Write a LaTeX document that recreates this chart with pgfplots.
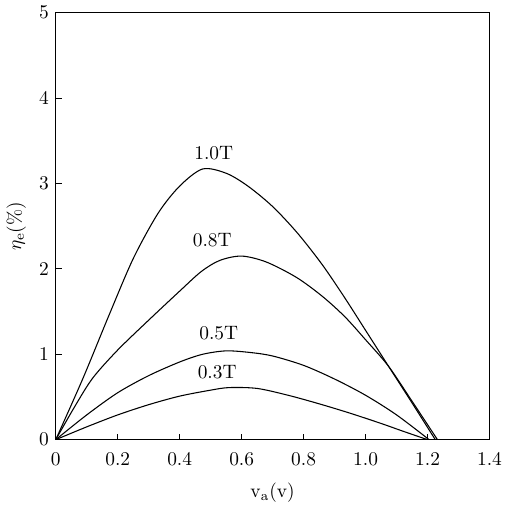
\documentclass[border=0pt]{standalone}
\usepackage{pgfplots}
\pgfplotsset{compat=1.18}

\begin{document}
\begin{tikzpicture}
\begin{axis}[
    scale only axis,
    width=223.5pt,
    height=220pt,
    xmin=0, xmax=1.4,
    ymin=0, ymax=5,
    xtick={0,0.2,0.4,0.6,0.8,1.0,1.2,1.4},
    xticklabels={0,0.2,0.4,0.6,0.8,1.0,1.2,1.4},
    ytick={0,1,2,3,4,5},
    tick align=inside,
    xtick pos=bottom,
    ytick pos=left,
    major tick length=3pt,
    xticklabel style={yshift=-3pt},
    xlabel style={yshift=-2pt},
    axis line style={line width=0.5pt},
    tick style={black, line width=0.5pt},
    xlabel={$\mathrm{v_a}$(v)},
    ylabel={$\eta_{\mathrm{e}}$(\%)},
    cycle list={{black, solid, no markers}},
    every axis plot/.append style={line width=0.55pt, smooth},
]
% 1.0T
\addplot coordinates {(0,0) (0.088,0.72) (0.171,1.45) (0.25,2.12) (0.33,2.65) (0.40,2.97) (0.474,3.17) (0.55,3.12) (0.62,2.97) (0.70,2.73) (0.78,2.42) (0.86,2.05) (0.933,1.66) (1.0,1.28) (1.074,0.86) (1.15,0.43) (1.225,0)};
% 0.8T
\addplot coordinates {(0,0) (0.06,0.38) (0.119,0.72) (0.2,1.05) (0.3,1.40) (0.4,1.74) (0.47,1.97) (0.53,2.10) (0.60,2.15) (0.68,2.08) (0.777,1.90) (0.86,1.68) (0.933,1.44) (1.0,1.17) (1.074,0.86) (1.15,0.45) (1.232,0)};
% 0.5T
\addplot coordinates {(0,0) (0.1,0.29) (0.2,0.55) (0.3,0.75) (0.4,0.91) (0.474,1.00) (0.55,1.04) (0.63,1.02) (0.7,0.98) (0.8,0.87) (0.9,0.71) (1.0,0.52) (1.1,0.29) (1.205,0)};
% 0.3T
\addplot coordinates {(0,0) (0.1,0.15) (0.2,0.29) (0.3,0.41) (0.4,0.51) (0.5,0.58) (0.56,0.61) (0.65,0.60) (0.75,0.52) (0.85,0.42) (0.95,0.31) (1.05,0.19) (1.12,0.10) (1.20,0)};
\node at (axis cs:0.51,3.36) {1.0T};
\node at (axis cs:0.505,2.34) {0.8T};
\node at (axis cs:0.526,1.25) {0.5T};
\node at (axis cs:0.521,0.79) {0.3T};
\end{axis}
\end{tikzpicture}
\end{document}
